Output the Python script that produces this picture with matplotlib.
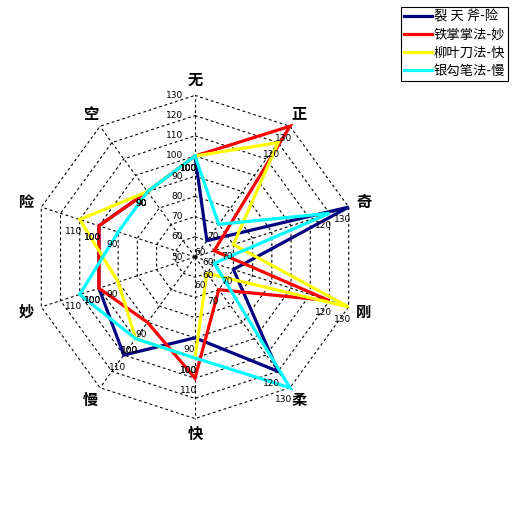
import numpy as np
import matplotlib
matplotlib.use('Agg')
import matplotlib.pyplot as plt
from matplotlib.lines import Line2D

plt.rcParams['font.family'] = ['Noto Sans CJK SC', 'DejaVu Sans']

# data
axis_names = ['无', '正', '奇', '刚', '柔', '快', '慢', '妙', '险', '空']
series_names = ['裂 天 斧-险', '铁掌掌法-妙', '柳叶刀法-快', '银勾笔法-慢']
lie_tian_fu = [100, 60, 130, 70, 120, 90, 110, 100, 100, 90]
tie_zhang = [100, 130, 60, 120, 70, 110, 90, 100, 100, 90]
liu_ye_dao = [100, 120, 70, 130, 60, 100, 100, 90, 110, 90]
yin_gou_bi = [100, 70, 120, 60, 130, 100, 100, 110, 90, 90]
ring_ticks = [50, 60, 70, 80, 90, 100, 110, 120, 130]

colors = ['#000080', '#ff0000', '#ffff00', '#00ffff']

# layout (pixels)
W, H = 514, 513
CX, CY = 195, 257      # centre of the web
S = 2.02               # pixels per value unit
r0 = ring_ticks[0]
r_max = ring_ticks[-1] - r0

fig = plt.figure(figsize=(W / 100, H / 100), dpi=100)
ax = fig.add_axes([0, 0, 1, 1])
ax.set_xlim(-CX / S, (W - CX) / S)
ax.set_ylim(-(H - CY) / S, CY / S)
ax.axis('off')

n = len(axis_names)
ang = np.deg2rad(90 - 360 / n * np.arange(n))
ux, uy = np.cos(ang), np.sin(ang)

grid_style = dict(color='black', lw=0.8, ls=(0, (2.5, 2.5)), zorder=1)

# rings
for v in ring_ticks[1:]:
    r = v - r0
    ax.plot(np.append(ux, ux[0]) * r, np.append(uy, uy[0]) * r, **grid_style)
# spokes
for i in range(n):
    ax.plot([0, ux[i] * r_max], [0, uy[i] * r_max], **grid_style)

# ring values along the top axis
for v in ring_ticks:
    ax.annotate(str(v), (0, v - r0), xytext=(-8.5, 0), textcoords='offset points',
                ha='right', va='center', fontsize=6.5, family='DejaVu Sans', zorder=5)

# category labels
for i, name in enumerate(axis_names):
    r = r_max + 7.8
    ax.text(ux[i] * r, uy[i] * r, name, ha='center', va='center',
            fontsize=11, fontweight='bold', zorder=5)

# series
all_series = [lie_tian_fu, tie_zhang, liu_ye_dao, yin_gou_bi]
handles = []
for vals, col, name in zip(all_series, colors, series_names):
    r = np.array(vals) - r0
    xs = np.append(ux * r, ux[0] * r[0])
    ys = np.append(uy * r, uy[0] * r[0])
    ax.plot(xs, ys, color=col, lw=2.3, zorder=3, solid_joinstyle='miter')
    for i, v in enumerate(vals):
        ax.annotate(str(v), (ux[i] * r[i], uy[i] * r[i]), xytext=(-4.5, -5.5),
                    textcoords='offset points', ha='center', va='top',
                    fontsize=6.5, family='DejaVu Sans', zorder=6)
    handles.append(Line2D([], [], color=col, lw=2.3))

leg = fig.legend(handles, series_names, loc='upper right',
                 bbox_to_anchor=(508 / W, 1 - 7 / H), fontsize=9.6,
                 fancybox=False, edgecolor='black', framealpha=1,
                 borderpad=0.22, labelspacing=0.3, handlelength=2.1,
                 handletextpad=0.1, borderaxespad=0)
leg.get_frame().set_linewidth(0.8)

fig.savefig('out.png', dpi=100)
